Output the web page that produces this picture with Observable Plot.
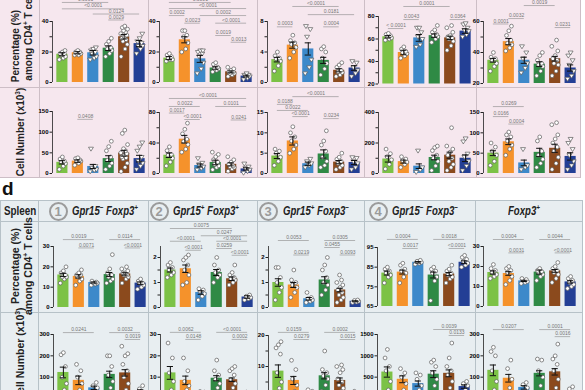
<!DOCTYPE html>
<html><head><meta charset="utf-8">
<script src="https://cdn.jsdelivr.net/npm/d3@7"></script>
<script src="https://cdn.jsdelivr.net/npm/@observablehq/plot@0.6"></script>
<style>
html,body{margin:0;padding:0;width:585px;height:390px;overflow:hidden;background:#fff;font-family:"Liberation Sans",Arial,sans-serif;}
#root{position:relative;width:585px;height:390px;overflow:hidden;}
.abs{position:absolute;}
.vl{position:absolute;white-space:nowrap;font-weight:bold;color:#222;transform:translate(-50%,-50%) rotate(-90deg);}
.vl sup{font-size:65%;}
.head{position:absolute;white-space:nowrap;font-weight:bold;font-style:italic;font-size:12px;color:#222;transform:scaleX(0.8);transform-origin:0 50%;}
.head sup{font-size:65%;}
.circ{position:absolute;width:15px;height:15px;border:2px solid #9b9b9b;border-radius:50%;color:#9b9b9b;font-weight:bold;font-size:13px;line-height:15px;text-align:center;}
</style></head>
<body><div id="root"></div>
<script>
const groups = ["grp1","grp2","grp3","grp4","grp5","grp6"];
const colors = ["#7cc246","#f5922b","#3d89ca","#2f8a45","#8b4a1d","#233f95"];

// ---------- Top (pink) section: percentage ----------
const topPctMean = [[18.5,19.5,19.5,22.5,30,25.5],[16,28,15.5,9.5,7,4.2],[3.0,4.9,4.4,2.9,1.6,1.9],[62,48,61,63,61,67],[35,47,35,32.5,36,30]];
const topPctSem  = [[1,0.7,1.5,1.5,1.5,2],[1,2,2.3,0.8,0.6,0.6],[0.3,0.4,0.8,0.4,0.2,0.3],[1,2,3,1.5,1.5,2],[1.2,2,2,1.5,1.5,2]];
const topPctPts = [
 [[16,17,18,19,20,21,15,19],[18,19,20,20,21,19,18],[15,17,19,21,22,23,20,16],[17,19,21,23,25,27,29,22],[17,22,25,28,30,32,34,36,37,33,29,31,27,35],[19,22,24,26,29,32,27,24]],
 [[14,15,16,17,18,19,15],[20,22,26,30,34,34,31],[6,9,13,17,20,21,21,19],[7,8,9,10,12,13,9],[4,5,6,7,8,9,10,6,7],[2,3,4,5,6,5,4]],
 [[1.5,2.2,2.8,3.2,3.5,4.0,3.1],[3.2,4.0,4.6,5.2,5.5,6.2,5.0],[1.2,2.0,3.0,7.0,7.4,6.0],[1.0,1.8,2.5,3.2,4.0,4.7,4.4],[0.8,1.0,1.3,1.6,2.0,2.3,2.6,1.4],[0.8,1.2,1.6,2.0,2.8,2.6]],
 [[59,60,62,63,64,65,61],[43,45,47,49,51,53,48],[53,55,60,66,70,70,62],[57,60,62,64,66,68,72,63],[50,54,58,61,63,66,70,72,60,62],[62,64,67,70,73,74,68]],
 [[28,31,33,35,37,40,36],[41,43,46,48,51,54,57,45],[27,30,33,36,40,44],[25,28,31,33,35,38,40,32],[25,28,32,35,38,41,44,48,36,33],[23,25,28,32,35,40,38]]
];
const topPctAnn = [
 [[0,3,52.5,"0.0001"],[0,4,48.3,"<0.0001"],[2,5,44.9,"0.0124"],[3,4,41,"0.0029"]],
 [[0,4,52.5,"0.0001"],[0,5,48.5,"<0.0001"],[0,1,43.9,"0.0002"],[2,5,43.9,"0.0002"],[1,2,38.9,"0.0023"],[3,5,38.9,"<0.0001"],[3,4,30.8,"0.0019"],[4,5,26.4,"0.0013"]],
 [[1,4,9.97,"<0.0001"],[2,5,8.9,"0.0181"],[0,1,7.3,"0.0003"],[3,4,7.3,"0.0004"]],
 [[1,4,88.9,"0.0001"],[1,2,77.3,"0.0043"],[4,5,77.3,"0.0364"],[0,1,69.3,"< 0.0001"]],
 [[2,4,70.3,"0.0019"],[1,2,61.9,"0.0032"],[0,1,58.4,"0.0001"],[4,5,56.1,"0.0231"]]
];
const topPctDomain = [[0,40],[0,40],[0,8],[20,80],[20,60]];
const topPctTicks  = [[0,10,20,30,40],[0,10,20,30,40],[0,2,4,6,8],[20,30,40,50,60,70,80],[20,30,40,50,60]];
const topPctLabels = [[0,20,40],[0,20,40],[0,4,8],[20,40,60,80],[20,40,60]];

// ---------- Top (pink) section: cell number ----------
const topCellMean = [[27,30,17,36,49,36],[24,45,10.5,14.5,12,6],[4.3,8,2.4,4.8,2.8,2.7],[95,78,48,105,120,100],[50,78,26,52,62,42]];
const topCellSem  = [[4,3,5,7,7,8],[3,5,2,3,2,1.5],[0.6,1,0.4,1,0.4,0.5],[20,10,15,15,20,22],[6,7,7,10,10,9]];
const topCellPts = [
 [[10,18,24,30,35,40,28],[20,25,30,33,36,38,30],[5,8,10,14,18,60],[10,18,25,32,40,55,65,78],[5,15,25,35,40,45,50,55,60,70,97,105,48,38],[10,18,25,30,40,55,65,75]],
 [[10,15,20,25,30,35,24],[28,32,38,45,52,58,66,42],[5,7,9,12,14,20],[5,8,12,15,18,22,25,28,10],[3,6,9,12,15,18,22,10,8],[1,3,5,7,9,13]],
 [[2.0,3.0,4.0,5.0,5.5,6.0],[5.0,6.0,7.0,8.0,9.0,10.0,11.5],[1.5,2.0,2.5,3.0,3.6],[1.5,2.0,3.0,4.0,5.5,7.0,8.0,10.5],[1.0,1.5,2.0,2.5,3.0,3.5,4.0,5.0],[1.0,1.5,2.5,3.0,3.8,4.0]],
 [[30,60,90,110,130,160],[40,60,75,85,95,110],[10,25,40,150],[20,50,80,100,120,150,170,180],[20,40,60,80,100,120,140,160,180,300],[20,50,80,110,130,210,230]],
 [[20,30,45,55,65,75],[45,60,70,80,90,95,102],[10,15,20,60],[15,25,35,45,55,80,90],[10,25,40,55,65,75,85,95,120,125],[10,20,30,45,60,75,85]]
];
const topCellAnn = [
 [[1,2,131,"0.0408"]],
 [[0,5,98.4,"<0.0001"],[0,2,87.9,"0.0022"],[3,5,87.9,"0.0101"],[0,1,79.3,"0.0017"],[1,2,70.8,"<0.0001"],[4,5,70.2,"0.0241"]],
 [[1,4,18.9,"<0.0001"],[0,1,17,"0.0188"],[0,2,15.5,"0.0022"],[1,2,14,"<0.0001"],[3,4,13.5,"0.0234"]],
 [],
 [[0,2,164.6,"0.0269"],[0,1,140,"0.0166"],[1,2,121.6,"0.0004"]]
];
const topCellDomain = [[0,150],[0,80],[0,15],[0,400],[0,150]];
const topCellTicks  = [[0,50,100,150],[0,20,40,60,80],[0,5,10,15],[0,100,200,300,400],[0,50,100,150]];
const topCellLabels = [[0,50,100,150],[0,40,80],[0,5,10,15],[0,200,400],[0,50,100,150]];

// ---------- Spleen section: percentage ----------
const spPctMean = [[16,15.3,12.3,16.2,16.5,12],[1.5,1.55,0.6,1.4,1.15,0.42],[1.0,0.9,0.35,1.1,0.7,0.25],[82,82.5,87.5,81,81.5,87.5],[17,16.5,12.8,17.2,17.8,12.3]];
const spPctSem  = [[0.8,0.8,0.3,1,0.6,0.6],[0.08,0.15,0.07,0.12,0.07,0.05],[0.15,0.1,0.05,0.13,0.07,0.02],[1,1,0.4,1.5,0.8,0.7],[0.8,0.9,0.3,1,0.7,0.6]];
const spPctPts = [
 [[12,14,15,16,17,18,20,15],[11,13,14,15,16,17,18.5,16],[11,11.5,12,12.5,13,12.2],[12,13,14,15,16,17,19,26],[12,14,15,16,17,18,19,20,16,17],[9,10,11,12,13,14,12]],
 [[1.2,1.3,1.4,1.5,1.6,1.7,1.8],[0.9,1.0,1.3,1.5,1.7,1.9,2.0,2.1],[0.3,0.45,0.55,0.65,0.7,0.75],[1.0,1.2,1.3,1.4,1.5,1.7,2.0],[0.9,1.0,1.1,1.15,1.2,1.3,1.4,1.7],[0.3,0.35,0.4,0.45,0.5]],
 [[0.3,0.6,0.8,1.0,1.2,1.6,1.6],[0.4,0.6,0.8,0.9,1.0,1.1,1.5],[0.2,0.25,0.3,0.35,0.4,0.6],[0.5,0.7,0.9,1.0,1.2,1.5,1.7,2.0],[0.2,0.3,0.4,0.5,0.6,0.7,0.8,0.9,1.0,1.1,1.3],[0.2,0.22,0.25,0.28,0.3]],
 [[77,80,81,82,83,84,85],[77,80,82,83,84,86,87],[86.5,87,87.5,88,88.5],[68,78,80,82,83,84,85],[77,79,80,81,82,83,84,86],[85,86,87,88,89,90,91]],
 [[14,15,16,17,18,19,21],[11,13,15,17,18,19,20],[11.5,12,12.5,13,13.5,14],[13,15,16,17,18,19,17.5],[12,14,16,17,18,19,20,22],[9,10,11,12,13,14,15]]
];
const spPctAnn = [
 [[0,2,33.4,"0.0019"],[1,2,29.3,"0.0071"],[3,5,33.4,"0.0114"],[4,5,29.3,"<0.0001"]],
 [[0,4,3.16,"0.0075"],[2,5,2.87,"0.0247"],[0,2,2.65,"<0.0001"],[3,5,2.65,"<0.0001"],[1,2,2.29,"<0.0001"],[3,4,2.36,"0.0259"],[4,5,2.09,"<0.0001"]],
 [[0,2,2.68,"0.0053"],[1,2,2.1,"0.0219"],[3,5,2.68,"0.0305"],[3,4,2.4,"0.0455"],[4,5,2.1,"0.0093"]],
 [[0,2,99.1,"0.0004"],[1,2,94.5,"0.0017"],[3,5,99.1,"0.0018"],[4,5,94.5,"<0.0001"]],
 [[0,2,33.5,"0.0004"],[1,2,26.8,"0.0031"],[3,5,33.5,"0.0044"],[4,5,26.8,"<0.0001"]]
];
const spPctDomain = [[0,30],[0,2.44],[0,2.44],[65,95],[0,30]];
const spPctTicks  = [[0,10,20,30],[0,0.5,1,1.5,2],[0,0.5,1,1.5,2],[65,75,85,95],[0,10,20,30]];
const spPctLabels = [[0,10,20,30],[0,1,2],[0,1,2],[65,75,85,95],[0,10,20,30]];

// ---------- Spleen section: cell number ----------
const spCellMean = [[122,85,50,113,120,35],[12,8.5,2.5,9.5,8.8,2],[8.5,5.5,1.5,7,5.5,1.2],[620,450,350,570,590,280],[132,95,52,118,125,30]];
const spCellSem  = [[25,20,8,15,15,6],[3,2,0.3,1.2,0.8,0.3],[2,1.3,0.3,1,0.8,0.2],[120,80,60,80,80,40],[25,18,8,12,15,5]];
const spCellPts = [
 [[10,40,70,100,150,205,215],[10,40,70,100,130,160],[20,35,50,60,75],[20,50,80,110,150,200,200],[10,40,70,100,130,160,200,210,245],[10,20,30,45,60]],
 [[2,4,8,12,19,26],[2,4,6,8,13,19],[2,2.5,3,3.3],[3,5,7,9,11,13,18],[3,5,7,9,11,13,14,15],[1,1.5,2,3]],
 [[1,3,5,8,14,16,17,18],[1,2,4,6,9,12],[1,1.5,2,2.5],[2,4,6,7,8,9,15],[1,2,3,4,5,6,8,9,10,10.5],[0.5,1,1.5,2]],
 [[100,200,400,650,750,950,1150],[80,200,350,500,600,700],[100,200,300,450,550,600],[100,300,450,600,750,850,900],[100,250,400,550,650,750,950,1300],[100,200,300,350,400]],
 [[10,40,80,130,200,220,240],[10,50,90,140,180],[20,35,50,65,75],[20,60,100,130,180,185],[10,50,90,130,160,185,200,255],[10,20,30,45,55]]
];
const spCellAnn = [
 [[0,2,309,"0.0241"],[3,5,309,"0.0032"],[4,5,276.6,"0.0019"]],
 [[0,2,31,"0.0062"],[1,2,27.7,"0.0148"],[3,5,31,"<0.0001"],[4,5,27.7,"0.0002"]],
 [[0,2,21,"0.0159"],[1,2,18.7,"0.0279"],[3,5,21,"0.0002"],[4,5,18.7,"0.0015"]],
 [[3,5,1617,"0.0039"],[4,5,1477,"0.0133"]],
 [[0,2,323,"0.0207"],[3,5,323,"0.0001"],[4,5,290,"0.0016"]]
];
const spCellDomain = [[0,300],[0,30],[0,20],[0,1500],[0,300]];
const spCellTicks  = [[0,100,200,300],[0,10,20,30],[0,5,10,15,20],[0,500,1000,1500],[0,100,200,300]];
const spCellLabels = [[0,100,200,300],[0,10,20,30],[0,10,20],[0,500,1000,1500],[0,100,200,300]];

const spleenHeads = [["1","−","+"],["2","+","+"],["3","+","−"],["4","−","−"]];

// ---------- layout ----------
const root = document.getElementById("root");
function el(tag, cls, css, html){const e=document.createElement(tag); if(cls) e.className=cls; Object.assign(e.style, css||{}); if(html!=null) e.innerHTML=html; root.appendChild(e); return e;}

// pink box
el("div","abs",{left:"0px",top:"-2px",width:"580px",height:"179px",background:"#f6e7ee",borderRight:"1px solid #cdbec6",borderBottom:"1px solid #cdbec6"});
[39,148,257,364,476].forEach(x=>el("div","abs",{left:x+"px",top:"0px",width:"1px",height:"178px",background:"#cdbec6"}));
el("div","abs",{left:"0px",top:"87px",width:"581px",height:"1px",background:"#cdbec6"});
// spleen box
el("div","abs",{left:"0px",top:"200px",width:"583px",height:"200px",background:"#e8eef1",border:"1px solid #b7c2c8",boxSizing:"border-box"});
[38,148,257,364,475].forEach(x=>el("div","abs",{left:x+"px",top:"200px",width:"1px",height:"190px",background:"#b7c2c8"}));
[221,312].forEach(y=>el("div","abs",{left:"0px",top:y+"px",width:"583px",height:"1px",background:"#b7c2c8"}));

// texts
el("div","vl",{left:"15px",top:"46px",fontSize:"10px"},"Percentage (%)");
el("div","vl",{left:"28px",top:"34px",fontSize:"10px"},"among CD4<sup>+</sup> T cells");
el("div","vl",{left:"20px",top:"132px",fontSize:"10px"},"Cell Number (x10<sup>3</sup>)");
el("div","abs",{left:"2px",top:"178px",fontSize:"19px",fontWeight:"bold",color:"#111"},"d");
el("div","abs",{left:"4px",top:"204px",fontSize:"12px",fontWeight:"bold",color:"#222",transform:"scaleX(0.82)",transformOrigin:"0 50%"},"Spleen");
el("div","vl",{left:"15px",top:"266px",fontSize:"10.5px"},"Percentage (%)");
el("div","vl",{left:"28px",top:"266px",fontSize:"10.5px"},"among CD4<sup>+</sup> T cells");
el("div","vl",{left:"20px",top:"354px",fontSize:"10.5px"},"Cell Number (x10<sup>3</sup>)");

const headCirc = [58,159,268,378], headText = [72,173,283,392];
spleenHeads.forEach((h,k)=>{
  el("div","circ",{left:(headCirc[k]-9.5)+"px",top:(211-9.5)+"px"},h[0]);
  el("div","head",{left:headText[k]+"px",top:"203px"},`Gpr15<sup>${h[1]}</sup> Foxp3<sup>${h[2]}</sup>`);
});
el("div","head",{left:"508px",top:"203px"},"Foxp3<sup>+</sup>");

const triDown = {draw(ctx,size){const r=Math.sqrt(size/Math.PI)*1.3; ctx.moveTo(-r,-r*0.6); ctx.lineTo(r,-r*0.6); ctx.lineTo(0,r*1.0); ctx.closePath();}};
const spread = [-0.2,0.06,0.2,-0.08,0.13,-0.15,0.0,0.17,-0.22,0.09,-0.04,0.22,-0.12,0.04];

function panel(axisX, topPx, zeroPx, domain, ticks, labels, means, sems, pts, ann, tri){
  const mL=20,mR=4,mT=64,mB=3;
  const width=mL+97+mR, height=mT+(zeroPx-topPx)+mB;
  const bars=means.map((m,i)=>({i,m,s:sems[i]}));
  const circ=[], tris=[];
  pts.forEach((arr,i)=>{[...arr].sort((a,b)=>a-b).forEach((v,k)=>{const p={x:i+spread[k%spread.length],y:v}; (tri&&(i===2||i===5)?tris:circ).push(p);});});
  const lowCaps=bars.filter(d=>d.m-d.s>domain[0]);
  const svg=Plot.plot({
    width,height,marginTop:mT,marginBottom:mB,marginLeft:mL,marginRight:mR,
    x:{domain:[-0.64,5.64],axis:null},
    y:{domain,axis:null},
    style:{background:"transparent",fontFamily:"Liberation Sans, Arial, sans-serif",overflow:"visible"},
    marks:[
      Plot.rect(bars,{x1:d=>d.i-0.36,x2:d=>d.i+0.36,y1:()=>domain[0],y2:d=>d.m,fill:d=>colors[d.i]}),
      Plot.dot(circ,{x:"x",y:"y",r:1.9,fill:"white",stroke:"#5a5a5a",strokeWidth:0.7}),
      Plot.dot(tris,{x:"x",y:"y",r:1.9,symbol:triDown,fill:"white",stroke:"#5a5a5a",strokeWidth:0.7}),
      Plot.ruleX(bars,{x:d=>d.i,y1:d=>Math.max(domain[0],d.m-d.s),y2:d=>d.m+d.s,stroke:"#111",strokeWidth:1}),
      Plot.ruleY(bars,{y:d=>d.m+d.s,x1:d=>d.i-0.2,x2:d=>d.i+0.2,stroke:"#111",strokeWidth:1}),
      Plot.ruleY(lowCaps,{y:d=>d.m-d.s,x1:d=>d.i-0.2,x2:d=>d.i+0.2,stroke:"#111",strokeWidth:1}),
      Plot.ruleY(ann,{y:d=>d[2],x1:d=>d[0],x2:d=>d[1],stroke:"#8a8a8a",strokeWidth:0.6}),
      Plot.text(ann,{x:d=>(d[0]+d[1])/2,y:d=>d[2],text:d=>d[3],dy:-3,fontSize:5,fill:"#777"}),
      Plot.ruleX([-0.64],{y1:()=>domain[0],y2:()=>domain[1],stroke:"#222",strokeWidth:0.8}),
      Plot.axisY({ticks,tickFormat:d=>labels.includes(d)?String(d):"",tickSize:2.5,tickPadding:1.5,fontSize:6,fontWeight:"bold",label:null,stroke:"#222"})
    ]
  });
  const wrap=el("div","abs",{left:(axisX-mL)+"px",top:(topPx-mT)+"px",width:width+"px",height:height+"px"});
  wrap.appendChild(svg);
}

const topAxisX=[52,159,267,378,483], spAxisX=[53,160,268,377,483];
const rows=[
 {ax:topAxisX, top:[21,21,21,16,21], zero:[82,82,82,83.5,83], D:topPctDomain, T:topPctTicks, L:topPctLabels, M:topPctMean, S:topPctSem, P:topPctPts, A:topPctAnn, tri:true},
 {ax:topAxisX, top:[111,112,112,112,112], zero:[173,173,173,173,173], D:topCellDomain, T:topCellTicks, L:topCellLabels, M:topCellMean, S:topCellSem, P:topCellPts, A:topCellAnn, tri:true},
 {ax:spAxisX, top:[246,246,246,247,246], zero:[307,307,307,306,306], D:spPctDomain, T:spPctTicks, L:spPctLabels, M:spPctMean, S:spPctSem, P:spPctPts, A:spPctAnn, tri:false},
 {ax:spAxisX, top:[334,334,335,334,334], zero:[398,398,397,398,398], D:spCellDomain, T:spCellTicks, L:spCellLabels, M:spCellMean, S:spCellSem, P:spCellPts, A:spCellAnn, tri:false}
];
rows.forEach(r=>{for(let k=0;k<5;k++) panel(r.ax[k],r.top[k],r.zero[k],r.D[k],r.T[k],r.L[k],r.M[k],r.S[k],r.P[k],r.A[k],r.tri);});
</script>
</body></html>
